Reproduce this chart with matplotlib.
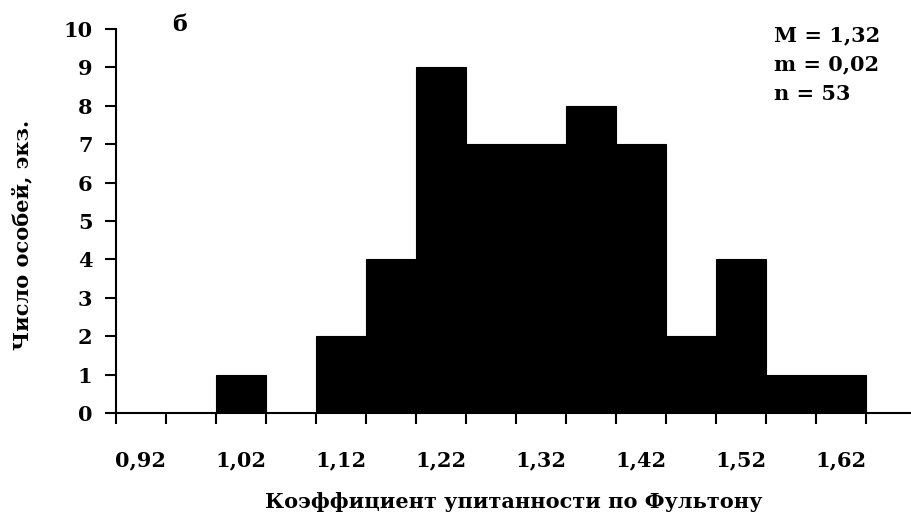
import numpy as np
import matplotlib
matplotlib.use('Agg')
import matplotlib.pyplot as plt

# центры интервалов и число особей
bin_centers = [0.92, 0.97, 1.02, 1.07, 1.12, 1.17, 1.22, 1.27, 1.32, 1.37, 1.42, 1.47, 1.52, 1.57, 1.62]
counts = [0, 0, 1, 0, 2, 4, 9, 7, 7, 8, 7, 2, 4, 1, 1]
label_values = [0.92, 1.02, 1.12, 1.22, 1.32, 1.42, 1.52, 1.62]
stats_lines = ['M = 1,32', 'm = 0,02', 'n = 53']
bin_width = 0.05

plt.rcParams['font.family'] = ['DejaVu Serif']
plt.rcParams['font.weight'] = 'bold'

fig = plt.figure(figsize=(9.11, 5.14), dpi=100)
ax = fig.add_axes([116 / 911, 1 - 413 / 514, 795 / 911, 384 / 514])

ax.bar(bin_centers, counts, width=bin_width, color='black', edgecolor='black', linewidth=0.8)

ax.set_xlim(bin_centers[0] - bin_width / 2, bin_centers[0] - bin_width / 2 + 0.795)
ax.set_ylim(0, 10)

for s in ['top', 'right']:
    ax.spines[s].set_visible(False)
for s in ['left', 'bottom']:
    ax.spines[s].set_linewidth(1.5)

# деления на границах интервалов, подписи по центрам
edges = [c - bin_width / 2 for c in bin_centers] + [bin_centers[-1] + bin_width / 2]
ax.set_xticks(edges)
ax.set_xticklabels([])
ax.set_xticks(label_values, minor=True)
ax.set_xticklabels([('%.2f' % v).replace('.', ',') for v in label_values], minor=True)
ax.tick_params(axis='x', which='major', direction='out', length=8, width=1.5)
ax.tick_params(axis='x', which='minor', length=0, pad=27, labelsize=15)

ax.set_yticks(range(0, 11))
ax.tick_params(axis='y', direction='out', length=8, width=1.5, pad=9, labelsize=15)

fig.text(22 / 911, 1 - 235 / 514, 'Число особей, экз.', rotation=90,
         ha='center', va='center', fontsize=15, fontweight='bold')
fig.text(514 / 911, 1 - 502 / 514, 'Коэффициент упитанности по Фультону',
         ha='center', va='center', fontsize=15, fontweight='bold')
fig.text(180 / 911, 1 - 25 / 514, 'б', ha='center', va='center', fontsize=16, fontweight='bold')

for i, line in enumerate(stats_lines):
    fig.text(774 / 911, 1 - (35 + 29.5 * i) / 514, line, ha='left', va='center',
             fontsize=15, fontweight='bold')

fig.savefig('out.png', dpi=100)
